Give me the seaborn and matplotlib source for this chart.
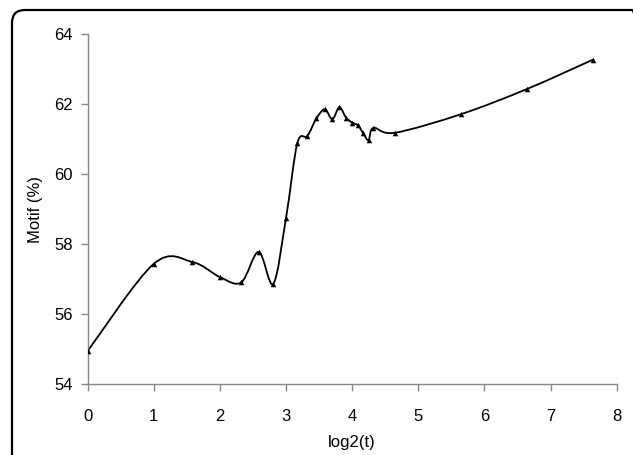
import numpy as np
import matplotlib
matplotlib.use("Agg")
import matplotlib.pyplot as plt
from matplotlib.path import Path
from matplotlib.patches import PathPatch, FancyBboxPatch
import seaborn as sns

sns.set_style("ticks")
plt.rcParams['font.family'] = ['Liberation Sans', 'DejaVu Sans']
plt.rcParams['text.color'] = 'black'
plt.rcParams['axes.labelcolor'] = 'black'
plt.rcParams['xtick.labelcolor'] = 'black'
plt.rcParams['ytick.labelcolor'] = 'black'

# log2(t) values and motif percentage
log2_t = [0, 1, 1.585, 2, 2.322, 2.585, 2.807, 3, 3.17, 3.322, 3.459, 3.585,
          3.7, 3.807, 3.907, 4, 4.087, 4.17, 4.248, 4.322, 4.644, 5.644, 6.644, 7.644]
motif = [54.95, 57.44, 57.49, 57.06, 56.91, 57.78, 56.87, 58.76, 60.88, 61.09, 61.59, 61.85,
         61.57, 61.91, 61.61, 61.47, 61.39, 61.16, 60.97, 61.32, 61.18, 61.71, 62.43, 63.27]
x_ticks = [0, 1, 2, 3, 4, 5, 6, 7, 8]
y_ticks = [54, 56, 58, 60, 62, 64]


def smooth_path(xs, ys):
    # excel-style smoothed line: cubic bezier segments, catmull-rom control points
    pts = np.column_stack([xs, ys])
    n = len(pts)
    verts = [pts[0]]
    codes = [Path.MOVETO]
    for i in range(n - 1):
        p_prev = pts[i - 1] if i > 0 else pts[i]
        p_next2 = pts[i + 2] if i + 2 < n else pts[i + 1]
        c1 = pts[i] + (pts[i + 1] - p_prev) / 6.0
        c2 = pts[i + 1] - (p_next2 - pts[i]) / 6.0
        verts += [c1, c2, pts[i + 1]]
        codes += [Path.CURVE4] * 3
    return Path(verts, codes)


fig = plt.figure(figsize=(6.33, 4.55), dpi=100)
ax = fig.add_axes([0.1385, 0.1554, 0.8358, 0.7699])

ax.add_patch(PathPatch(smooth_path(log2_t, motif), facecolor='none',
                       edgecolor='black', lw=1.3, transform=ax.transData))
sns.scatterplot(x=log2_t, y=motif, marker='^', s=16, color='black',
                edgecolor='black', linewidth=0, ax=ax, zorder=3)

ax.set_xlim(0, 8)
ax.set_ylim(54, 64)
ax.set_xticks(x_ticks)
ax.set_yticks(y_ticks)
ax.set_xlabel('log2(t)', fontsize=12, labelpad=8)
ax.set_ylabel('Motif (%)', fontsize=12, labelpad=8)

for side in ['top', 'right']:
    ax.spines[side].set_visible(False)
for side in ['left', 'bottom']:
    ax.spines[side].set_color('#888888')
    ax.spines[side].set_linewidth(1.0)
ax.tick_params(axis='x', direction='out', length=5, width=1, color='#888888',
               labelsize=12, pad=13)
ax.tick_params(axis='y', direction='out', length=5, width=1, color='#888888',
               labelsize=12, pad=6)

# rounded frame round the whole picture
frame = FancyBboxPatch((0.12, -0.5), 6.33, 4.95,
                       boxstyle="round,pad=0,rounding_size=0.13",
                       transform=fig.dpi_scale_trans, facecolor='none',
                       edgecolor='black', lw=1.6, clip_on=False)
fig.add_artist(frame)

fig.savefig('out.png', dpi=100)
